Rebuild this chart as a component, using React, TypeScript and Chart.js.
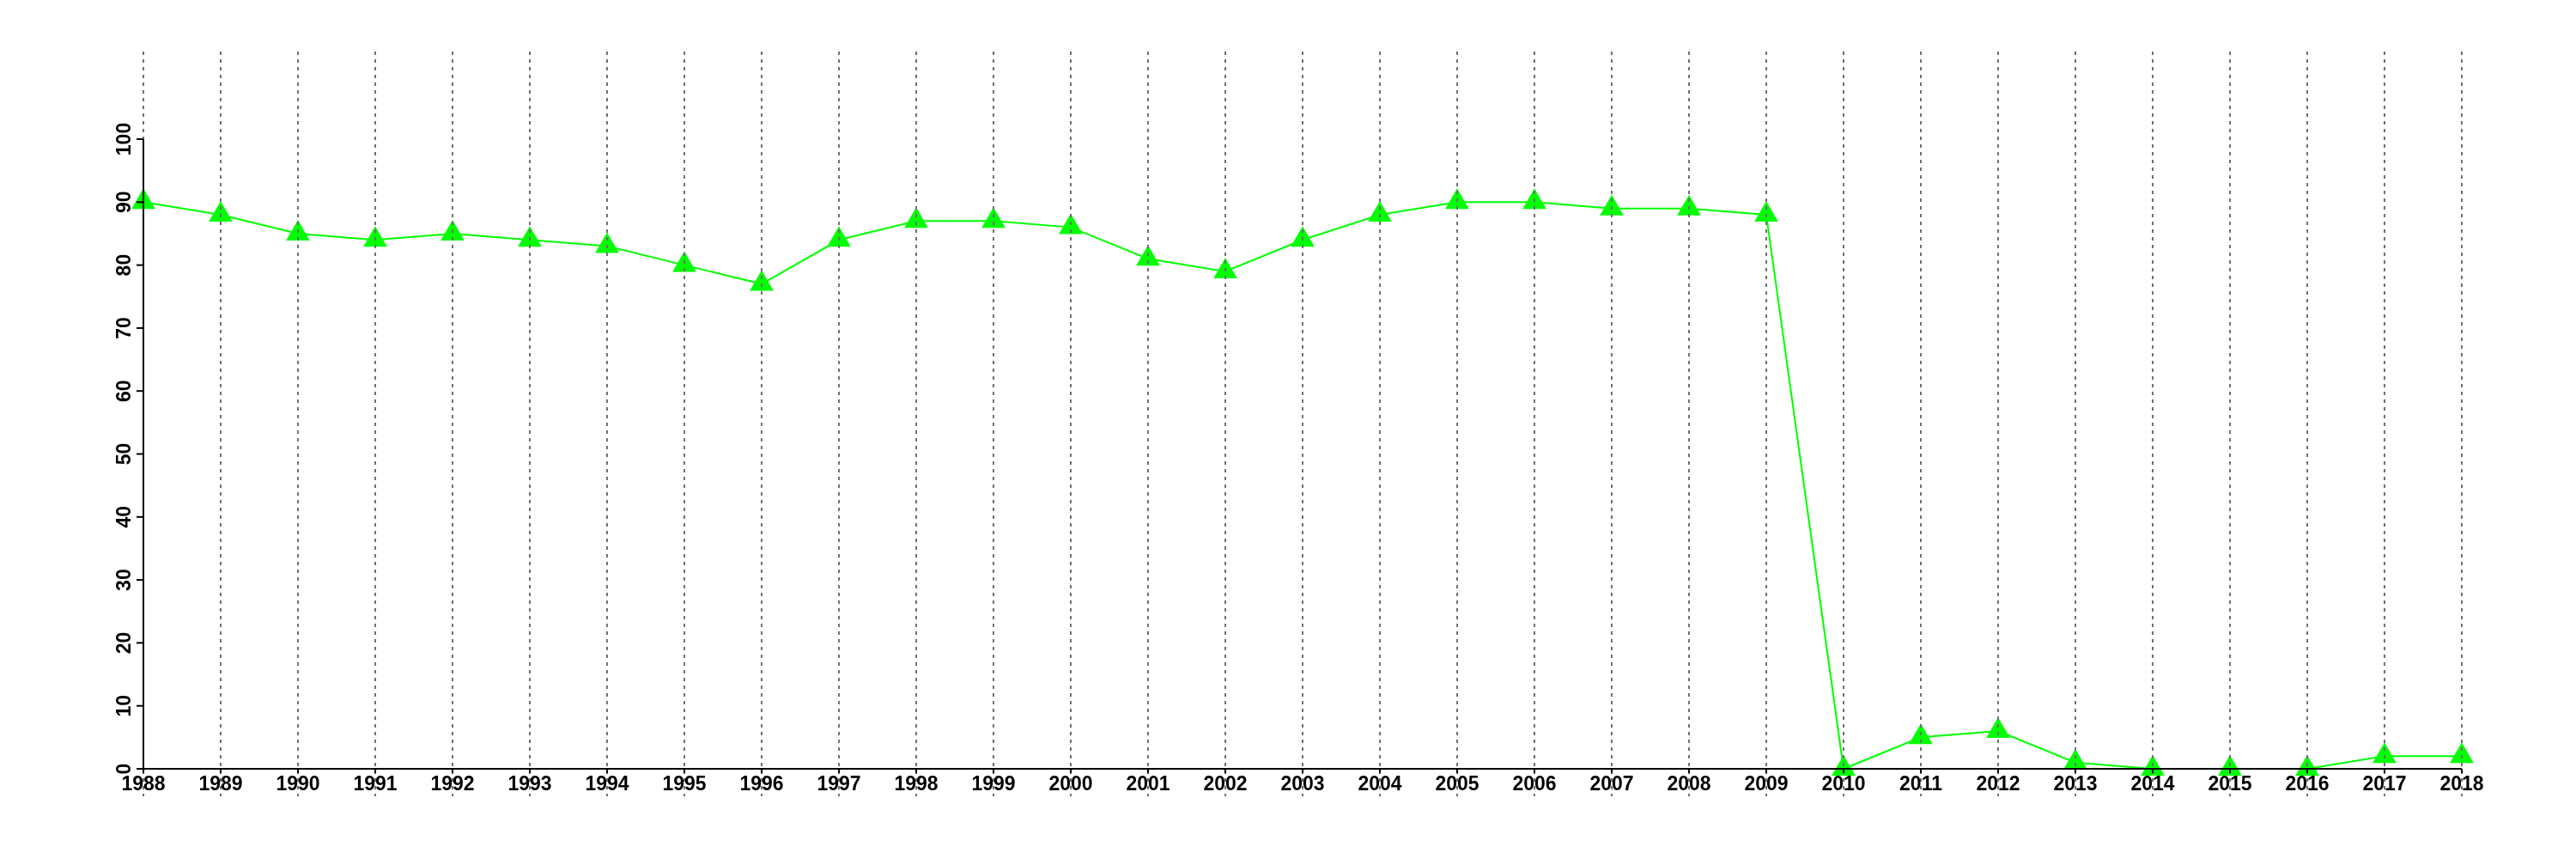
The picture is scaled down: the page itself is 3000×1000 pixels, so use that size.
import React, { useEffect, useRef } from 'react';
import { Chart, registerables } from 'chart.js';

Chart.register(...registerables);

const years: string[] = [
  '1988', '1989', '1990', '1991', '1992', '1993', '1994', '1995', '1996', '1997',
  '1998', '1999', '2000', '2001', '2002', '2003', '2004', '2005', '2006', '2007',
  '2008', '2009', '2010', '2011', '2012', '2013', '2014', '2015', '2016', '2017', '2018',
];

const values: number[] = [
  90, 88, 85, 84, 85, 84, 83, 80, 77, 84,
  87, 87, 86, 81, 79, 84, 88, 90, 90, 89,
  89, 88, 0, 5, 6, 1, 0, 0, 0, 2, 2,
];

const yTicks: number[] = [0, 10, 20, 30, 40, 50, 60, 70, 80, 90, 100];

const FONT = 'bold 23px "Liberation Sans", Arial, sans-serif';

const axesPlugin = {
  id: 'customAxes',
  afterDatasetsDraw(chart: any) {
    const ctx: CanvasRenderingContext2D = chart.ctx;
    const xs = chart.scales.x;
    const ys = chart.scales.y;
    const area = chart.chartArea;
    ctx.save();

    // vertical dashed gridlines (drawn over the data, as in the reference)
    ctx.strokeStyle = '#707070';
    ctx.lineWidth = 2;
    ctx.setLineDash([4, 5]);
    years.forEach((_, i) => {
      const px = Math.round(xs.getPixelForValue(i));
      ctx.beginPath();
      ctx.moveTo(px, 60);
      ctx.lineTo(px, 927);
      ctx.stroke();
    });
    ctx.setLineDash([]);

    // axes lines
    ctx.strokeStyle = '#000';
    ctx.lineWidth = 2;
    const yTop = ys.getPixelForValue(yTicks[yTicks.length - 1]);
    const yBot = ys.getPixelForValue(0);
    ctx.beginPath();
    ctx.moveTo(area.left, yTop);
    ctx.lineTo(area.left, yBot);
    ctx.stroke();
    ctx.beginPath();
    ctx.moveTo(area.left - 8, yBot);
    ctx.lineTo(xs.getPixelForValue(years.length - 1), yBot);
    ctx.stroke();

    // y ticks + rotated labels
    ctx.fillStyle = '#000';
    ctx.font = FONT;
    yTicks.forEach((v) => {
      const py = ys.getPixelForValue(v);
      ctx.beginPath();
      ctx.moveTo(area.left - 8, py);
      ctx.lineTo(area.left, py);
      ctx.stroke();
      ctx.save();
      ctx.translate(area.left - 15, py);
      ctx.rotate(-Math.PI / 2);
      ctx.textAlign = 'center';
      ctx.textBaseline = 'alphabetic';
      ctx.fillText(String(v), 0, 0);
      ctx.restore();
    });

    // x ticks + labels
    ctx.textAlign = 'center';
    ctx.textBaseline = 'alphabetic';
    years.forEach((yr, i) => {
      const px = xs.getPixelForValue(i);
      ctx.beginPath();
      ctx.moveTo(px, yBot);
      ctx.lineTo(px, yBot + 5);
      ctx.stroke();
      ctx.fillText(yr, px, yBot + 25);
    });

    ctx.restore();
  },
};

export default function App() {
  const canvasRef = useRef<HTMLCanvasElement | null>(null);

  useEffect(() => {
    document.body.style.margin = '0';
    const canvas = canvasRef.current;
    if (!canvas) return;
    const chart = new Chart(canvas, {
      type: 'line',
      data: {
        labels: years,
        datasets: [
          {
            data: values,
            borderColor: '#00ff00',
            borderWidth: 2,
            tension: 0,
            pointStyle: 'triangle',
            pointRadius: 16,
            pointHoverRadius: 16,
            pointBackgroundColor: '#00ff00',
            pointBorderColor: '#00ff00',
            pointBorderWidth: 0,
            clip: false as any,
          },
        ],
      },
      options: {
        animation: false,
        responsive: false,
        devicePixelRatio: 1,
        events: [],
        layout: { padding: { left: 167, right: 133, top: 162, bottom: 105 } },
        plugins: { legend: { display: false }, tooltip: { enabled: false } },
        scales: {
          x: { type: 'category', display: false, offset: false },
          y: { type: 'linear', display: false, min: 0, max: 100 },
        },
      },
      plugins: [axesPlugin],
    });
    return () => chart.destroy();
  }, []);

  return (
    <div style={{ width: 3000, height: 1000, background: '#fff' }}>
      <canvas ref={canvasRef} width={3000} height={1000} style={{ width: 3000, height: 1000, display: 'block' }} />
    </div>
  );
}
